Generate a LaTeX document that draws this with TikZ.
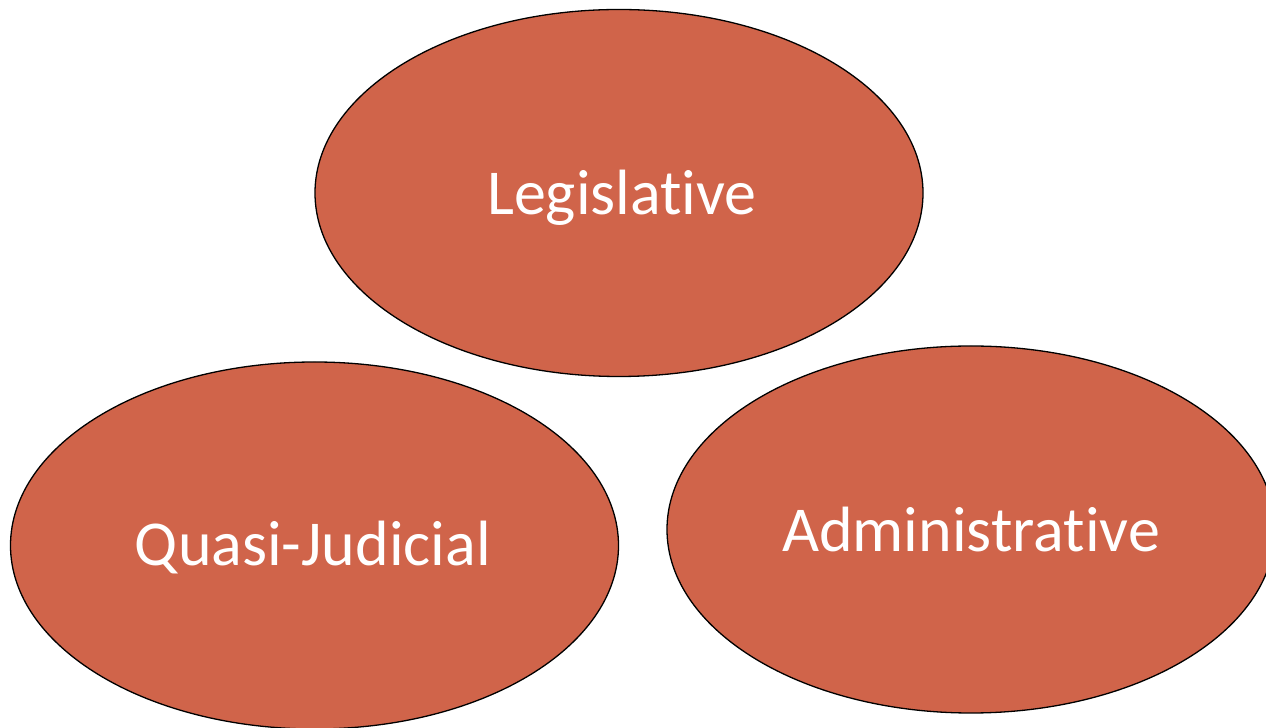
\documentclass[tikz,border=0pt]{standalone}
\usepackage{fontspec}
\setmainfont[Ligatures=NoCommon,RawFeature={-liga;-clig;-dlig}]{Carlito}
\usetikzlibrary{shapes.geometric}
\definecolor{fillred}{HTML}{D0644A}
\begin{document}
\begin{tikzpicture}[x=1pt,y=1pt,
  blob/.style={ellipse, draw=black, line width=1.3pt, fill=fillred, inner sep=0pt,
    minimum width=608pt, minimum height=367pt},
  label/.style={text=white, font=\fontsize{64}{68}\selectfont, anchor=base, inner sep=0pt}]
\useasboundingbox (0,0) rectangle (1266,728);
\clip (0,0) rectangle (1266,728);
\node[blob] (leg) at (619,535) {};
\node[blob] (quasi) at (314.5,182.5) {};
\node[blob] (admin) at (971,198.5) {};
\node[label] (legt) at (622,513) {Legislat\kern0pt ive};
\node[label] (quasit) at (313,162) {Quasi-Judicial};
\node[label] (admint) at (971,176) {Administrat\kern0pt ive};
\end{tikzpicture}
\end{document}
